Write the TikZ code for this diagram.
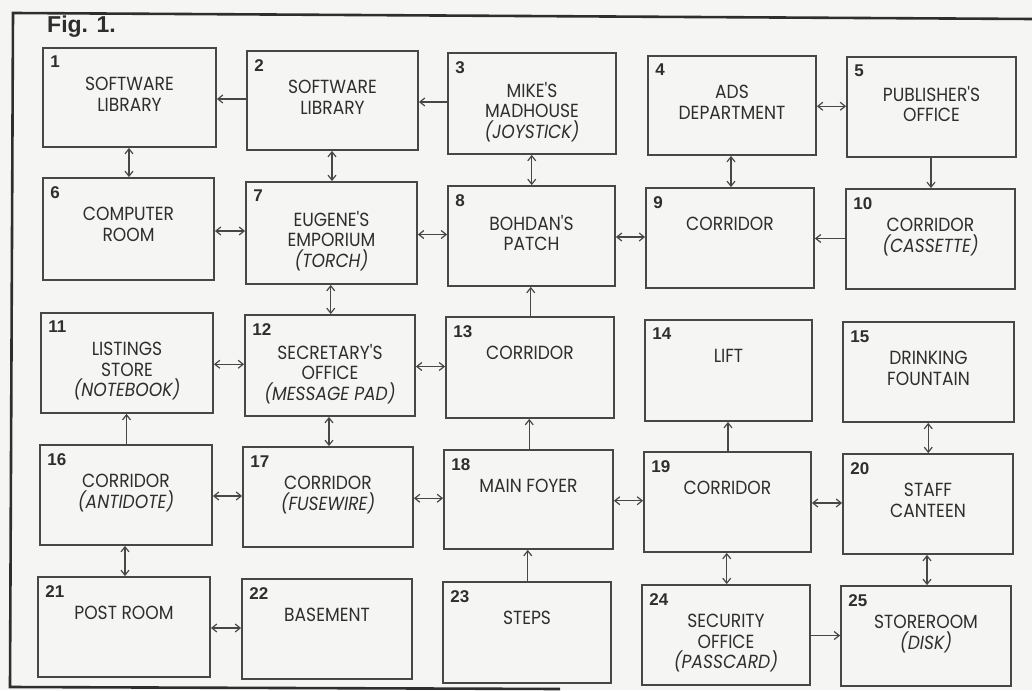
\documentclass[tikz,border=0pt]{standalone}
\usepackage{fontspec}
\usetikzlibrary{arrows.meta,calc,fit}
\newfontfamily\lblfont[FakeStretch=0.9]{Poppins}
\newfontfamily\numfont{Liberation Sans}
\definecolor{bgc}{HTML}{F5F5F3}
\definecolor{ink}{HTML}{2E2E2E}
\definecolor{linec}{HTML}{474747}
\definecolor{framec}{HTML}{2E2E2E}
\tikzset{
  box/.style={draw=linec, line width=1.8pt, inner sep=0pt},
  lbl/.style={text=ink, font=\lblfont\fontsize{19}{20.5}\selectfont, align=center, inner sep=0pt, anchor=north},
  num/.style={text=ink, font=\numfont\bfseries\fontsize{17}{17}\selectfont, inner sep=0pt, anchor=north west},
  conn/.style={draw=linec, line width=1.2pt, arrows={-}, >={Straight Barb[length=5pt,width=8pt]}},
  frameline/.style={draw=framec, line width=2.6pt},
  figlbl/.style={text=ink, font=\numfont\bfseries\fontsize{23}{23}\selectfont, inner sep=0pt, anchor=north west}
}
\newcommand\room[7]{%
  \node[box, fit={(#2,#3)(#4,#5)}] (#1) {};
  \node[num] (#1n) at ([shift={(8,9)}]#1.north west) {#6};
  \node[lbl] (#1t) at ([shift={(0,30)}]#1.north) {#7};
}
\newcommand\hcon[3]{%
  \coordinate (m#1#2) at ($(#1.center)!0.5!(#2.center)$);
  \draw[conn,#3] (#1.east |- m#1#2) -- (#2.west |- m#1#2);
}
\newcommand\vcon[3]{%
  \coordinate (m#1#2) at ($(#1.center)!0.5!(#2.center)$);
  \draw[conn,#3] (#1.south -| m#1#2) -- (#2.north -| m#1#2);
}
\newcommand\itm[1]{\itshape(#1)}
\begin{document}
\begin{tikzpicture}[x=1pt,y=-1pt]
\fill[bgc] (0,0) rectangle (1032,690);
\useasboundingbox (0,0) rectangle (1032,690);
% frame
\coordinate (ftr) at (1032,19);
\coordinate (ftl) at (13,13);
\coordinate (fbl) at (10,687);
\coordinate (fbr) at (560,689);
\draw[frameline] (ftr) -- (ftl) -- (fbl) -- (fbr);
\node[figlbl] (fig) at (47,16) {Fig. 1.};
% rooms
\room{r1}{43}{48}{216}{147}{1}{SOFTWARE\\LIBRARY}
\room{r2}{247}{51}{418}{150}{2}{SOFTWARE\\LIBRARY}
\room{r3}{448}{53}{616}{154}{3}{MIKE'S\\MADHOUSE\\\itm{JOYSTICK}}
\room{r4}{648}{56}{816}{155}{4}{ADS\\DEPARTMENT}
\room{r5}{847}{57}{1016}{157}{5}{PUBLISHER'S\\OFFICE}
\room{r6}{43}{178}{214}{280}{6}{COMPUTER\\ROOM}
\room{r7}{246}{182}{417}{284}{7}{EUGENE'S\\EMPORIUM\\\itm{TORCH}}
\room{r8}{448}{186}{615}{286}{8}{BOHDAN'S\\PATCH}
\room{r9}{646}{188}{814}{288}{9}{CORRIDOR}
\room{r10}{846}{189}{1015}{289}{10}{CORRIDOR\\\itm{CASSETTE}}
\room{r11}{41}{313}{213}{413}{11}{LISTINGS\\STORE\\\itm{NOTEBOOK}}
\room{r12}{245}{315}{415}{416}{12}{SECRETARY'S\\OFFICE\\\itm{MESSAGE PAD}}
\room{r13}{446}{317}{614}{418}{13}{CORRIDOR}
\room{r14}{645}{320}{812}{421}{14}{LIFT}
\room{r15}{843}{322}{1014}{422}{15}{DRINKING\\FOUNTAIN}
\room{r16}{40}{445}{212}{545}{16}{CORRIDOR\\\itm{ANTIDOTE}}
\room{r17}{243}{447}{413}{547}{17}{CORRIDOR\\\itm{FUSEWIRE}}
\room{r18}{444}{450}{613}{549}{18}{MAIN FOYER}
\room{r19}{644}{452}{811}{552}{19}{CORRIDOR}
\room{r20}{843}{454}{1013}{554}{20}{STAFF\\CANTEEN}
\room{r21}{38}{577}{210}{677}{21}{POST ROOM}
\room{r22}{242}{579}{412}{679}{22}{BASEMENT}
\room{r23}{443}{582}{611}{683}{23}{STEPS}
\room{r24}{642}{585}{810}{685}{24}{SECURITY\\OFFICE\\\itm{PASSCARD}}
\room{r25}{841}{586}{1011}{686}{25}{STOREROOM\\\itm{DISK}}
% connectors
\hcon{r1}{r2}{<-}
\hcon{r2}{r3}{<-}
\hcon{r4}{r5}{<->}
\vcon{r1}{r6}{<->}
\vcon{r2}{r7}{<->}
\vcon{r3}{r8}{<->}
\vcon{r4}{r9}{<->}
\vcon{r5}{r10}{->}
\hcon{r6}{r7}{<->}
\hcon{r7}{r8}{<->}
\hcon{r8}{r9}{<->}
\hcon{r9}{r10}{<-}
\vcon{r7}{r12}{<->}
\vcon{r8}{r13}{<-}
\hcon{r11}{r12}{<->}
\hcon{r12}{r13}{<->}
\vcon{r11}{r16}{<-}
\vcon{r12}{r17}{<->}
\vcon{r13}{r18}{<-}
\vcon{r14}{r19}{<-}
\vcon{r15}{r20}{<->}
\hcon{r16}{r17}{<->}
\hcon{r17}{r18}{<->}
\hcon{r18}{r19}{<->}
\hcon{r19}{r20}{<->}
\vcon{r16}{r21}{<->}
\vcon{r18}{r23}{<-}
\vcon{r19}{r24}{<->}
\vcon{r20}{r25}{<->}
\hcon{r21}{r22}{<->}
\hcon{r24}{r25}{->}
\end{tikzpicture}
\end{document}
